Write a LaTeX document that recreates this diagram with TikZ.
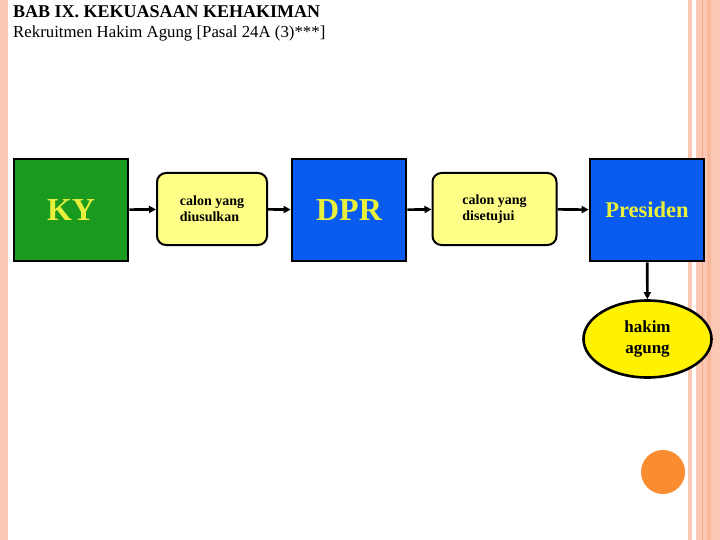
\documentclass[tikz,border=0pt]{standalone}
\usepackage{fontspec}
\setmainfont{Liberation Serif}
\usetikzlibrary{shapes.geometric,arrows.meta}
\definecolor{peach}{RGB}{251,200,180}
\definecolor{peachd}{RGB}{246,170,140}
\definecolor{kygreen}{RGB}{26,154,30}
\definecolor{dblue}{RGB}{10,92,240}
\definecolor{lyellow}{RGB}{255,255,136}
\definecolor{ttext}{RGB}{232,240,60}
\definecolor{orangec}{RGB}{250,140,50}
\tikzset{
  bigbox/.style={draw=black, line width=2.6pt, minimum width=114pt, minimum height=102pt, inner sep=0pt, font=\bfseries, text=ttext},
  calon/.style={draw=black, line width=2pt, fill=lyellow, rounded corners=9pt, minimum width=110pt, minimum height=72pt, inner sep=0pt, font=\fontsize{14}{16}\selectfont\bfseries, align=left},
  conn/.style={line width=2.6pt, -{Triangle[length=7pt,width=7pt]}}
}
\begin{document}
\begin{tikzpicture}[x=1pt,y=-1pt]
\useasboundingbox (0,0) rectangle (720,540);
\fill[white] (0,0) rectangle (720,540);
% decorative stripes
\fill[peach] (0,0) rectangle (8,540);
\fill[peach] (688,0) rectangle (692,540);
\fill[peach] (696,0) rectangle (720,540);
\fill[peachd] (701.5,0) rectangle (703,540);
\fill[peachd!60!peach] (707,0) rectangle (711,540);
% titles
\node[anchor=base west, inner sep=0pt, font=\fontsize{18}{18}\selectfont\bfseries] (title) at (13,18) {BAB IX. KEKUASAAN KEHAKIMAN};
\node[anchor=base west, inner sep=0pt, font=\fontsize{16.8}{17}\selectfont] (sub) at (13,38) {Rekruitmen Hakim Agung [Pasal 24A (3)***]};
% nodes
\node[bigbox, fill=kygreen, font=\fontsize{32}{32}\selectfont\bfseries] (ky) at (71,210) {KY};
\node[calon] (c1) at (212,209) {calon yang\\diusulkan};
\node[bigbox, fill=dblue, font=\fontsize{32}{32}\selectfont\bfseries] (dpr) at (349,210) {DPR};
\node[calon, minimum width=124pt] (c2) at (494.5,209) {calon yang\\disetujui};
\node[bigbox, fill=dblue, font=\fontsize{22.5}{22.5}\selectfont\bfseries] (pres) at (647,210) {Presiden};
\node[ellipse, draw=black, line width=2.6pt, fill=yellow, minimum width=128pt, minimum height=77pt, inner sep=0pt, align=center, font=\fontsize{17}{21}\selectfont\bfseries] (hakim) at (647.5,339) {hakim\\agung};
% connectors
\draw[conn] (ky) -- (c1);
\draw[conn] (c1) -- (dpr);
\draw[conn] (dpr) -- (c2);
\draw[conn] (c2) -- (pres);
\draw[conn] (pres) -- (hakim);
% orange dot
\fill[orangec] (663,472) circle (22);
\end{tikzpicture}
\end{document}
